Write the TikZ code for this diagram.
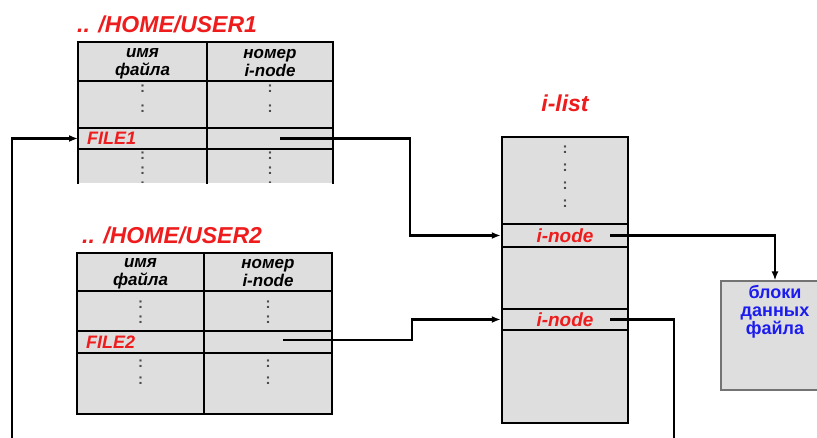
\documentclass[tikz,border=0pt]{standalone}
\usepackage{fontspec}
\setmainfont{Liberation Sans}
\usetikzlibrary{arrows.meta}
\definecolor{cellgray}{RGB}{222,222,222}
\definecolor{namered}{RGB}{238,28,28}
\definecolor{blockblue}{RGB}{28,28,238}

\begin{document}
\begin{tikzpicture}[x=1pt,y=-1pt,
    grid/.style={line width=2.5pt,line cap=rect},
    link/.style={line width=2.2pt,-{Latex[length=9pt,width=7pt]}},
    title/.style={anchor=west,inner sep=0pt,text=namered,font=\fontsize{23}{26}\selectfont\bfseries\itshape},
    head/.style={align=center,inner sep=0pt,font=\fontsize{17}{17.5}\selectfont\bfseries\itshape},
    fname/.style={anchor=west,inner xsep=9pt,inner ysep=0pt,text=namered,font=\fontsize{18}{18}\selectfont\bfseries\itshape},
    dots/.style={inner sep=0pt,text=black!70,font=\fontsize{15}{15}\selectfont\bfseries},
    inode/.style={draw,line width=2.5pt,fill=cellgray,minimum width=126pt,inner sep=0pt,text=namered,font=\fontsize{19}{19}\selectfont\bfseries\itshape},
    blockbox/.style={draw=black!55,line width=1.2pt,fill=cellgray,minimum width=108pt,minimum height=109pt,inner sep=0pt}]
  \useasboundingbox (0,0) rectangle (817,438);

  % directory /HOME/USER1
  \node[title] (dir1) at (77,24) {.. /HOME/USER1};
  \fill[cellgray] (78,42) rectangle (333,183);
  \draw[grid] (78,183) -- (78,42) -- (333,42) -- (333,183);
  \draw[grid] (207,42) -- (207,183);
  \draw[grid] (78,81) -- (333,81) (78,128) -- (333,128) (78,149) -- (333,149);
  \node[head] (name1) at (142.5,64) {имя\\файла};
  \node[head] (num1) at (270,63) {номер\\i-node};
  \node[fname] (file1) at (78,138.5) {FILE1};
  \coordinate (ptr1) at (280,138.5);
  \begin{scope}
    \clip (78,42) rectangle (333,183);
    \foreach \x in {142.5,270} {
      \foreach \y in {89,109,156,171,186} \node[dots] at (\x,\y) {:};
    }
  \end{scope}

  % directory /HOME/USER2
  \node[title] (dir2) at (82,235) {.. /HOME/USER2};
  \fill[cellgray] (77,253) rectangle (332,414);
  \draw[grid] (77,253) rectangle (332,414);
  \draw[grid] (204,253) -- (204,414);
  \draw[grid] (77,291) -- (332,291) (77,331) -- (332,331) (77,353) -- (332,353);
  \node[head] (name2) at (140.5,274) {имя\\файла};
  \node[head] (num2) at (268,273) {номер\\i-node};
  \node[fname] (file2) at (77,342) {FILE2};
  \coordinate (ptr2) at (283,340);
  \foreach \x in {140.5,268} {
    \foreach \y in {305,320,364,381} \node[dots] at (\x,\y) {:};
  }

  % i-list
  \node[title,anchor=center] (ilist) at (565,103) {i-list};
  \filldraw[grid,fill=cellgray] (502,137) rectangle (628,423);
  \foreach \y in {150,168,186,204} \node[dots] at (565,\y) {:};
  \node[inode,minimum height=23pt] (inode1) at (565,235.5) {i-node};
  \node[inode,minimum height=21pt] (inode2) at (565,319.5) {i-node};
  \coordinate (iptr1) at (610,235.5);
  \coordinate (iptr2) at (610,319.5);

  % data blocks
  \node[blockbox] (blocks) at (775,335.5) {};
  \node[anchor=north,align=center,inner sep=0pt,text=blockblue,
        font=\fontsize{18}{18}\selectfont\bfseries] (blocktext) at ([yshift=-5pt]blocks.north) {блоки\\данных\\файла};

  % links
  \draw[link] (ptr1) -- (410,138.5) |- (inode1.west);
  \draw[link] (ptr2) -- (412,340) |- (inode2.west);
  \draw[link] (iptr1) -| (blocks.north);
  \draw[link] (iptr2) -- (674,319.5) -- (674,460) -- (12,460) |- (file1.west);
\end{tikzpicture}
\end{document}
